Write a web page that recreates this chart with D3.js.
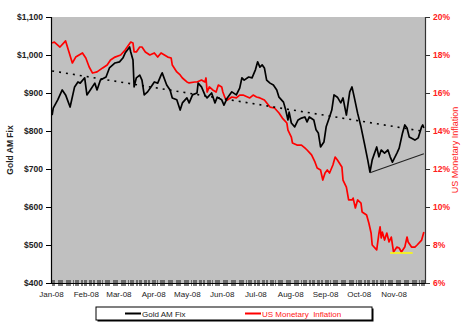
<!DOCTYPE html>
<html>
<head>
<meta charset="utf-8">
<script src="https://cdn.jsdelivr.net/npm/d3@7"></script>
<style>
  body { margin: 0; background: #fff; }
  svg { display: block; font-family: "Liberation Sans", Arial, sans-serif; }
</style>
</head>
<body>
<svg id="chart" width="470" height="336"></svg>
<script>
// Month labels along the bottom axis
const monthTicks = ["2008-01-01", "2008-02-01", "2008-03-01", "2008-04-01", "2008-05-01", "2008-06-01",
                    "2008-07-01", "2008-08-01", "2008-09-01", "2008-10-01", "2008-11-01"];
// Left axis (US$ per ounce) and right axis (%) tick values
const goldAxisTicks = [400, 500, 600, 700, 800, 900, 1000, 1100];
const inflationAxisTicks = [6, 8, 10, 12, 14, 16, 18, 20];

// London gold AM fix, US$
const goldFix = [
  ["2008-01-02", 842], ["2008-01-03", 860], ["2008-01-07", 882], ["2008-01-11", 908], ["2008-01-14", 895],
  ["2008-01-18", 863], ["2008-01-22", 916], ["2008-01-25", 929], ["2008-01-27", 926], ["2008-01-31", 940],
  ["2008-02-02", 895], ["2008-02-05", 908], ["2008-02-09", 926], ["2008-02-11", 908], ["2008-02-14", 934],
  ["2008-02-19", 942], ["2008-02-22", 966], ["2008-02-27", 979], ["2008-03-02", 982], ["2008-03-05", 992],
  ["2008-03-07", 1005], ["2008-03-11", 1021], ["2008-03-12", 1008], ["2008-03-14", 987], ["2008-03-15", 916],
  ["2008-03-17", 940], ["2008-03-20", 947], ["2008-03-22", 934], ["2008-03-24", 895], ["2008-03-27", 903],
  ["2008-03-30", 916], ["2008-04-02", 929], ["2008-04-05", 926], ["2008-04-08", 947], ["2008-04-09", 953],
  ["2008-04-13", 921], ["2008-04-16", 908], ["2008-04-18", 887], ["2008-04-22", 882], ["2008-04-25", 855],
  ["2008-04-27", 874], ["2008-05-01", 887], ["2008-05-03", 874], ["2008-05-06", 895], ["2008-05-10", 900],
  ["2008-05-11", 926], ["2008-05-14", 916], ["2008-05-17", 895], ["2008-05-19", 887], ["2008-05-23", 900],
  ["2008-05-26", 874], ["2008-05-28", 889], ["2008-06-01", 882], ["2008-06-03", 868], ["2008-06-06", 887],
  ["2008-06-10", 903], ["2008-06-14", 895], ["2008-06-17", 913], ["2008-06-19", 940], ["2008-06-21", 934],
  ["2008-06-25", 942], ["2008-06-28", 940], ["2008-07-01", 961], ["2008-07-03", 982], ["2008-07-05", 968],
  ["2008-07-07", 974], ["2008-07-09", 966], ["2008-07-11", 934], ["2008-07-14", 926], ["2008-07-17", 921],
  ["2008-07-20", 908], ["2008-07-22", 889], ["2008-07-26", 876], ["2008-07-28", 855], ["2008-07-30", 829],
  ["2008-07-31", 850], ["2008-08-02", 821], ["2008-08-05", 811], ["2008-08-08", 829], ["2008-08-11", 834],
  ["2008-08-14", 837], ["2008-08-16", 824], ["2008-08-18", 837], ["2008-08-22", 829], ["2008-08-24", 803],
  ["2008-08-26", 795], ["2008-08-28", 758], ["2008-08-31", 771], ["2008-09-02", 811], ["2008-09-05", 837],
  ["2008-09-07", 855], ["2008-09-09", 895], ["2008-09-12", 889], ["2008-09-15", 874], ["2008-09-17", 887],
  ["2008-09-20", 842], ["2008-09-23", 903], ["2008-09-25", 916], ["2008-09-27", 889], ["2008-09-30", 847],
  ["2008-10-03", 811], ["2008-10-06", 768], ["2008-10-09", 724], ["2008-10-11", 692], ["2008-10-13", 724],
  ["2008-10-17", 758], ["2008-10-19", 732], ["2008-10-21", 750], ["2008-10-24", 742], ["2008-10-27", 750],
  ["2008-10-29", 732], ["2008-10-31", 718], ["2008-11-04", 742], ["2008-11-06", 755], ["2008-11-09", 795],
  ["2008-11-11", 816], ["2008-11-13", 808], ["2008-11-15", 784], ["2008-11-20", 776], ["2008-11-23", 782],
  ["2008-11-26", 811], ["2008-11-27", 816], ["2008-11-28", 808]
];

// US monetary inflation, % year over year
const monetaryInflation = [
  ["2008-01-02", 18.63], ["2008-01-04", 18.68], ["2008-01-09", 18.42], ["2008-01-14", 18.74], ["2008-01-17", 18.16],
  ["2008-01-20", 17.58], ["2008-01-23", 17.89], ["2008-01-29", 18.11], ["2008-02-01", 17.84], ["2008-02-04", 17.37],
  ["2008-02-07", 17.05], ["2008-02-11", 17.11], ["2008-02-16", 17.32], ["2008-02-20", 17.47], ["2008-02-23", 17.74],
  ["2008-02-27", 17.89], ["2008-03-03", 18.00], ["2008-03-07", 18.26], ["2008-03-12", 18.68], ["2008-03-14", 18.63],
  ["2008-03-15", 18.16], ["2008-03-17", 18.16], ["2008-03-20", 18.42], ["2008-03-22", 18.42], ["2008-03-25", 18.16],
  ["2008-03-29", 18.00], ["2008-04-02", 18.11], ["2008-04-05", 17.89], ["2008-04-08", 18.11], ["2008-04-11", 18.00],
  ["2008-04-14", 17.89], ["2008-04-17", 17.84], ["2008-04-18", 17.47], ["2008-04-22", 17.11], ["2008-04-25", 16.95],
  ["2008-04-27", 16.79], ["2008-05-01", 16.58], ["2008-05-03", 16.53], ["2008-05-08", 16.58], ["2008-05-10", 16.58],
  ["2008-05-14", 16.68], ["2008-05-17", 16.58], ["2008-05-18", 16.79], ["2008-05-19", 16.05], ["2008-05-21", 16.32],
  ["2008-05-24", 16.16], ["2008-05-27", 16.05], ["2008-05-29", 16.42], ["2008-06-01", 16.32], ["2008-06-02", 16.05],
  ["2008-06-04", 15.74], ["2008-06-06", 15.63], ["2008-06-10", 15.79], ["2008-06-14", 15.74], ["2008-06-17", 15.89],
  ["2008-06-20", 15.89], ["2008-06-24", 15.79], ["2008-06-26", 15.74], ["2008-06-29", 15.89], ["2008-07-02", 15.79],
  ["2008-07-05", 15.74], ["2008-07-09", 15.63], ["2008-07-14", 15.26], ["2008-07-18", 15.21], ["2008-07-22", 14.95],
  ["2008-07-25", 14.68], ["2008-07-29", 14.42], ["2008-07-30", 14.05], ["2008-08-02", 13.68], ["2008-08-03", 13.37],
  ["2008-08-07", 13.26], ["2008-08-11", 13.26], ["2008-08-14", 13.11], ["2008-08-16", 13.00], ["2008-08-20", 12.74],
  ["2008-08-23", 12.37], ["2008-08-25", 12.05], ["2008-08-28", 11.95], ["2008-08-30", 11.42], ["2008-09-01", 11.79],
  ["2008-09-03", 11.95], ["2008-09-05", 11.79], ["2008-09-08", 12.21], ["2008-09-10", 12.63], ["2008-09-12", 12.47],
  ["2008-09-16", 12.11], ["2008-09-17", 11.42], ["2008-09-20", 11.05], ["2008-09-22", 10.37], ["2008-09-25", 10.37],
  ["2008-09-26", 10.47], ["2008-09-28", 9.95], ["2008-09-30", 10.37], ["2008-10-03", 10.21], ["2008-10-04", 9.74],
  ["2008-10-08", 9.58], ["2008-10-10", 9.16], ["2008-10-12", 8.63], ["2008-10-13", 8.00], ["2008-10-17", 7.74],
  ["2008-10-19", 8.63], ["2008-10-20", 8.95], ["2008-10-21", 8.37], ["2008-10-22", 8.68], ["2008-10-24", 8.26],
  ["2008-10-26", 8.63], ["2008-10-28", 8.16], ["2008-10-30", 8.42], ["2008-11-01", 7.63], ["2008-11-04", 7.89],
  ["2008-11-06", 7.84], ["2008-11-08", 7.63], ["2008-11-11", 7.89], ["2008-11-13", 8.42], ["2008-11-14", 8.16],
  ["2008-11-17", 7.89], ["2008-11-20", 7.89], ["2008-11-22", 8.00], ["2008-11-26", 8.26], ["2008-11-28", 8.68]
];

// Linear trend of the gold fix, rising support under the October low, inflation floor
const goldTrend = [["2008-01-02", 958], ["2008-11-28", 799]];
const goldSupport = [["2008-10-11", 690], ["2008-11-28", 740]];
const inflationFloor = [["2008-10-29", 7.58], ["2008-11-18", 7.58]];

const legendLabels = ["Gold AM Fix", "US Monetary  Inflation"];

const parse = d3.timeParse("%Y-%m-%d");
const svg = d3.select("#chart");

const plot = { left: 51, right: 425, top: 17, bottom: 283 };

const x = d3.scaleTime()
  .domain([new Date(2008, 0, 1), new Date(2008, 10, 29)])
  .range([plot.left, plot.right]);
const yGold = d3.scaleLinear().domain([400, 1100]).range([plot.bottom, plot.top]);
const yInfl = d3.scaleLinear().domain([6, 20]).range([plot.bottom, plot.top]);

// Plot area
svg.append("rect")
  .attr("x", plot.left).attr("y", plot.top)
  .attr("width", plot.right - plot.left).attr("height", plot.bottom - plot.top)
  .attr("fill", "#c0c0c0");

// Series
const goldLine = d3.line().x(d => x(parse(d[0]))).y(d => yGold(d[1]));
const inflLine = d3.line().x(d => x(parse(d[0]))).y(d => yInfl(d[1]));

svg.append("path").datum(monetaryInflation)
  .attr("d", inflLine).attr("fill", "none")
  .attr("stroke", "#ff0000").attr("stroke-width", 1.7).attr("stroke-linejoin", "round");

svg.append("path").datum(goldFix)
  .attr("d", goldLine).attr("fill", "none")
  .attr("stroke", "#000").attr("stroke-width", 1.7).attr("stroke-linejoin", "round");

svg.append("path").datum(goldTrend)
  .attr("d", goldLine).attr("fill", "none")
  .attr("stroke", "#000").attr("stroke-width", 1.6).attr("stroke-dasharray", "2,5");

svg.append("path").datum(goldSupport)
  .attr("d", goldLine).attr("fill", "none")
  .attr("stroke", "#222").attr("stroke-width", 1.1);

svg.append("path").datum(inflationFloor)
  .attr("d", inflLine).attr("fill", "none")
  .attr("stroke", "#ffff00").attr("stroke-width", 1.5);

// Left axis
const leftAxis = svg.append("g")
  .attr("transform", `translate(${plot.left},0)`)
  .call(d3.axisLeft(yGold).tickValues(goldAxisTicks)
    .tickFormat(d => "$" + d3.format(",")(d)).tickSize(5).tickPadding(3));
leftAxis.select(".domain").attr("stroke", "#000").attr("stroke-width", 1.2);
leftAxis.selectAll("line").attr("stroke", "#000");
leftAxis.selectAll("text")
  .attr("font-family", "Liberation Sans, Arial, sans-serif")
  .attr("font-size", 8.5).attr("font-weight", "bold").attr("fill", "#222");

// Right axis
const rightAxis = svg.append("g")
  .attr("transform", `translate(${plot.right},0)`)
  .call(d3.axisRight(yInfl).tickValues(inflationAxisTicks)
    .tickFormat(d => d + "%").tickSize(5).tickPadding(3));
rightAxis.select(".domain").attr("stroke", "#333").attr("stroke-width", 1.2);
rightAxis.selectAll("line").attr("stroke", "#333");
rightAxis.selectAll("text")
  .attr("font-family", "Liberation Sans, Arial, sans-serif")
  .attr("font-size", 8.5).attr("font-weight", "bold").attr("fill", "#ff2020");

// Bottom axis: one small tick per trading day, month labels
const tradingDays = d3.timeDay.range(new Date(2008, 0, 2), new Date(2008, 10, 29))
  .filter(d => d.getDay() !== 0 && d.getDay() !== 6);
svg.append("g").selectAll("line").data(tradingDays).join("line")
  .attr("x1", d => Math.round(x(d)) + 0.5).attr("x2", d => Math.round(x(d)) + 0.5)
  .attr("y1", plot.bottom - 3).attr("y2", plot.bottom + 3)
  .attr("stroke", "#444").attr("stroke-width", 0.7);

const bottomAxis = svg.append("g")
  .attr("transform", `translate(0,${plot.bottom})`)
  .call(d3.axisBottom(x).tickValues(monthTicks.map(parse))
    .tickFormat(d3.timeFormat("%b-%y")).tickSize(0).tickPadding(8));
bottomAxis.select(".domain").attr("stroke", "#000").attr("stroke-width", 1.2);
bottomAxis.selectAll("text")
  .attr("font-family", "Liberation Sans, Arial, sans-serif")
  .attr("font-size", 8).attr("fill", "#222");

// Axis titles
svg.append("text")
  .attr("transform", `translate(13,${(plot.top + plot.bottom) / 2}) rotate(-90)`)
  .attr("text-anchor", "middle")
  .attr("font-size", 8.5).attr("font-weight", "bold").attr("fill", "#222")
  .text("Gold AM Fix");

svg.append("text")
  .attr("transform", `translate(458,${(plot.top + plot.bottom) / 2}) rotate(-90)`)
  .attr("text-anchor", "middle")
  .attr("font-size", 9).attr("fill", "#ff2020")
  .text("US Monetary Inflation");

// Legend
const legend = svg.append("g");
legend.append("rect").attr("x", 97.5).attr("y", 308.5).attr("width", 276).attr("height", 13).attr("fill", "#000");
legend.append("rect").attr("x", 96).attr("y", 307).attr("width", 276).attr("height", 13)
  .attr("fill", "#fff").attr("stroke", "#000").attr("stroke-width", 1);

const legendColors = ["#000", "#ff0000"];
const legendX = [125, 245];
legendLabels.forEach((label, i) => {
  legend.append("line")
    .attr("x1", legendX[i]).attr("x2", legendX[i] + 16)
    .attr("y1", 313.5).attr("y2", 313.5)
    .attr("stroke", legendColors[i]).attr("stroke-width", 2);
  legend.append("text")
    .attr("x", legendX[i] + 17).attr("y", 316.5)
    .attr("font-size", 8).attr("fill", i === 0 ? "#222" : "#ff2020")
    .attr("xml:space", "preserve")
    .style("white-space", "pre")
    .text(label);
});
</script>
</body>
</html>
